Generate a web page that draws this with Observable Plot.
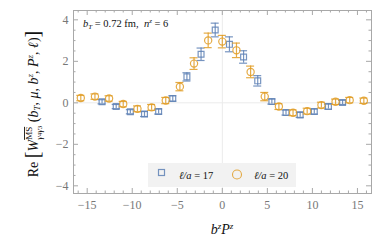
<!DOCTYPE html>
<html><head><meta charset="utf-8">
<script src="https://cdn.jsdelivr.net/npm/d3@7"></script>
<script src="https://cdn.jsdelivr.net/npm/@observablehq/plot@0.6"></script>
<style>body{margin:0;background:#fff;} #chart{position:relative;width:382px;height:243px;}</style>
</head><body><div id="chart"></div>
<script>
// ℓ/a = 17 (blue squares)
const blueX = [-13.35,-11.78,-10.21,-8.64,-7.07,-5.50,-3.93,-2.36,-0.79,0.79,2.36,3.93,5.50,7.07,8.64,10.21,11.78,13.35];
const blueY = [0.05,-0.18,-0.43,-0.54,-0.42,0.21,1.25,2.34,3.51,2.82,2.21,1.06,0.06,-0.47,-0.58,-0.42,-0.18,0.02];
const blueErr = [0.1,0.1,0.1,0.12,0.12,0.13,0.2,0.3,0.33,0.36,0.3,0.25,0.12,0.12,0.12,0.12,0.12,0.1];
// ℓ/a = 20 (orange circles)
const orangeX = [-15.71,-14.14,-12.57,-11.00,-9.42,-7.85,-6.28,-4.71,-3.14,-1.57,0,1.57,3.14,4.71,6.28,7.85,9.42,11.00,12.57,14.14,15.71];
const orangeY = [0.23,0.30,0.21,-0.06,-0.29,-0.22,0.11,0.78,1.89,3.01,2.95,2.53,1.49,0.30,-0.18,-0.48,-0.40,-0.11,0.05,0.13,0.10];
const orangeErr = [0.13,0.13,0.13,0.13,0.14,0.14,0.15,0.2,0.28,0.35,0.3,0.35,0.28,0.2,0.14,0.14,0.14,0.14,0.13,0.13,0.13];
const seriesLabels = ["17","20"];
const xMajor = [-15,-10,-5,0,5,10,15];
const yMajor = [-4,-2,0,2,4];

const blueC = "#5E81B5", orangeC = "#E19C24";
const W=382,H=243,mL=73,mR=11,mT=10,mB=50;
const innerW=W-mL-mR, innerH=H-mT-mB;
const frameC="#a8a8a8";
const xMinor = d3.range(-16,17,1).filter(v=>v%5!==0);
const yMinor = d3.range(-4,4.5,0.5).filter(v=>v%2!==0);
const blue = blueX.map((x,i)=>({x,y:blueY[i],e:blueErr[i]}));
const orange = orangeX.map((x,i)=>({x,y:orangeY[i],e:orangeErr[i]}));
const fmt = d => d<0 ? "\u2212"+(-d) : String(d);

function series(data, color, symbol, r){
  return [
    Plot.ruleX(data,{x:"x",y1:d=>d.y-d.e,y2:d=>d.y+d.e,stroke:color,strokeWidth:1.2,strokeOpacity:0.85}),
    Plot.ruleY(data,{y:d=>d.y+d.e,x1:"x",x2:"x",insetLeft:-4,insetRight:-4,stroke:color,strokeWidth:1.2,strokeOpacity:0.85}),
    Plot.ruleY(data,{y:d=>d.y-d.e,x1:"x",x2:"x",insetLeft:-4,insetRight:-4,stroke:color,strokeWidth:1.2,strokeOpacity:0.85}),
    Plot.dot(data,{x:"x",y:"y",symbol,r,stroke:color,strokeWidth:1.2,strokeOpacity:0.85,fill:"none"})
  ];
}

const chart = Plot.plot({
  width:W,height:H,marginLeft:mL,marginRight:mR,marginTop:mT,marginBottom:mB,
  x:{domain:[-16.52,16.56]}, y:{domain:[-4.37,4.45]},
  style:{fontFamily:"'Liberation Serif', serif",fontSize:"12px",color:"#777",background:"#fff"},
  marks:[
    Plot.ruleX([0],{stroke:"#ebebeb"}),
    Plot.ruleY([0],{stroke:"#ebebeb"}),
    Plot.ruleX(xMajor,{stroke:frameC,insetTop:innerH-5}),
    Plot.ruleX(xMajor,{stroke:frameC,insetBottom:innerH-5}),
    Plot.ruleX(xMinor,{stroke:frameC,insetTop:innerH-2.5}),
    Plot.ruleX(xMinor,{stroke:frameC,insetBottom:innerH-2.5}),
    Plot.ruleY(yMajor,{stroke:frameC,insetRight:innerW-5}),
    Plot.ruleY(yMajor,{stroke:frameC,insetLeft:innerW-5}),
    Plot.ruleY(yMinor,{stroke:frameC,insetRight:innerW-2.5}),
    Plot.ruleY(yMinor,{stroke:frameC,insetLeft:innerW-2.5}),
    Plot.frame({stroke:frameC}),
    Plot.axisX({ticks:xMajor,tickSize:0,tickPadding:7,tickFormat:fmt,label:null}),
    Plot.axisY({ticks:yMajor,tickSize:0,tickPadding:5,tickFormat:fmt,label:null}),
    ...series(blue,blueC,"square",3.3),
    ...series(orange,orangeC,"circle",3.6)
  ]
});
document.getElementById("chart").appendChild(chart);
const svg = d3.select(chart);
const serif = "'Liberation Serif', serif";

// annotation
const ann = svg.append("text").attr("x",83).attr("y",27).attr("text-anchor","start").attr("font-family",serif).attr("font-size",10.5).attr("fill","#111");
ann.append("tspan").attr("font-style","italic").text("b");
ann.append("tspan").attr("font-style","italic").attr("font-size",7).attr("dy",2).text("T");
ann.append("tspan").attr("dy",-2).text(" = 0.72 fm,  ");
ann.append("tspan").attr("font-style","italic").text("n");
ann.append("tspan").attr("font-style","italic").attr("font-size",7).attr("dy",-4).text("z");
ann.append("tspan").attr("dy",4).text(" = 6");

// legend
const lg = svg.append("g");
lg.append("rect").attr("x",148).attr("y",163).attr("width",148).attr("height",24).attr("fill","#f2f2f2");
lg.append("rect").attr("x",158.5).attr("y",169.5).attr("width",6).attr("height",6).attr("fill","none").attr("stroke",blueC).attr("stroke-width",1.2).attr("stroke-opacity",0.85);
lg.append("circle").attr("cx",237).attr("cy",174.5).attr("r",4.5).attr("fill","none").attr("stroke",orangeC).attr("stroke-width",1.1).attr("stroke-opacity",0.85);
[[179,seriesLabels[0]],[254,seriesLabels[1]]].forEach(([x,v])=>{
  const t = lg.append("text").attr("x",x).attr("y",178.5).attr("text-anchor","start").attr("font-family",serif).attr("font-size",10.5).attr("fill","#111");
  t.append("tspan").attr("font-style","italic").text("\u2113/a");
  t.append("tspan").text(" = "+v);
});

// x label
const xl = svg.append("text").attr("x",222).attr("y",234).attr("text-anchor","middle").attr("font-family",serif).attr("font-size",14).attr("fill","#111").attr("font-style","italic");
xl.append("tspan").text("b");
xl.append("tspan").attr("font-size",9).attr("dy",-5).text("z");
xl.append("tspan").attr("dy",5).text("P");
xl.append("tspan").attr("font-size",9).attr("dy",-5).text("z");

// y label
const yl = svg.append("text").attr("transform","translate(38,104) rotate(-90)").attr("text-anchor","middle").attr("font-family",serif).attr("font-size",14).attr("fill","#111");
yl.append("tspan").text("Re ");
yl.append("tspan").attr("font-size",20).attr("dy",1).text("[");
yl.append("tspan").attr("font-style","italic").attr("dy",-1).text("W");
const sup = yl.append("tspan").attr("font-size",9).attr("dy",-6).attr("text-decoration","overline").text("MS");
const sub = yl.append("tspan").attr("font-size",9).attr("dy",10);
sub.append("tspan").attr("font-style","italic").text("\u03b3");
sub.append("tspan").attr("font-size",7).text("4");
sub.append("tspan").attr("font-style","italic").text("\u03b3");
sub.append("tspan").attr("font-size",7).text("3");
const rest = yl.append("tspan").attr("dy",-4);
rest.append("tspan").text(" (");
rest.append("tspan").attr("font-style","italic").text("b");
rest.append("tspan").attr("font-size",9).attr("font-style","italic").attr("dy",2).text("T");
rest.append("tspan").attr("dy",-2).text(", ");
rest.append("tspan").attr("font-style","italic").text("\u03bc");
rest.append("tspan").text(", ");
rest.append("tspan").attr("font-style","italic").text("b");
rest.append("tspan").attr("font-size",9).attr("font-style","italic").attr("dy",-5).text("z");
rest.append("tspan").attr("dy",5).text(", ");
rest.append("tspan").attr("font-style","italic").text("P");
rest.append("tspan").attr("font-size",9).attr("font-style","italic").attr("dy",-5).text("z");
rest.append("tspan").attr("dy",5).text(", ");
rest.append("tspan").attr("font-style","italic").text("\u2113");
rest.append("tspan").text(")");
rest.append("tspan").attr("font-size",20).attr("dy",1).text("]");
// stack sup/sub
try {
  const sw = sup.node().getComputedTextLength();
  sub.attr("dx",-sw);
  const bw = sub.node().getComputedTextLength();
  if (sw > bw) rest.attr("dx", sw-bw);
} catch(e) {}
</script></body></html>
